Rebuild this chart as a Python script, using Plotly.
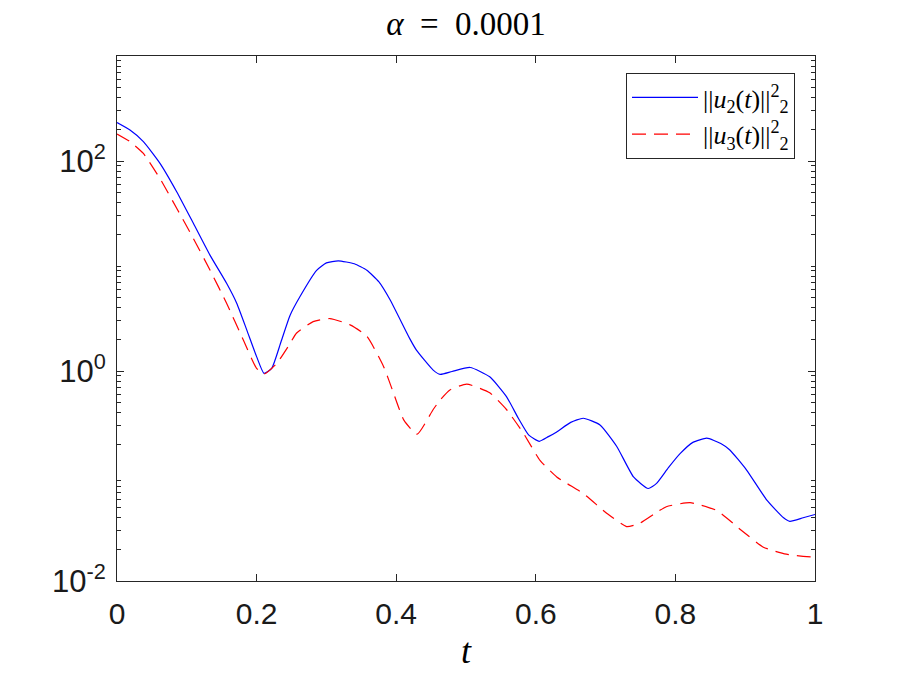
import plotly.graph_objects as go

t_u2 = [0, 0.0186, 0.0378, 0.0616, 0.0855, 0.1094, 0.1332, 0.157, 0.1715, 0.186, 0.200,
        0.2106, 0.2216, 0.235, 0.248, 0.262, 0.286, 0.300, 0.317, 0.340, 0.358, 0.375, 0.391,
        0.420, 0.429, 0.453, 0.463, 0.480, 0.506, 0.534, 0.558, 0.575, 0.590, 0.605, 0.618,
        0.630, 0.650, 0.668, 0.692, 0.716, 0.740, 0.761, 0.773, 0.790, 0.807, 0.825, 0.845,
        0.865, 0.878, 0.902, 0.931, 0.955, 0.964, 0.983, 1.0]
u2 = [232, 197, 153, 95, 51, 25.5, 12.7, 6.84, 4.42, 2.45, 1.37,
      0.95, 1.06, 1.9, 3.4, 5.1, 9.1, 10.7, 11.2, 10.5, 9.1, 7.1, 4.8,
      2.0, 1.58, 1.02, 0.93, 0.99, 1.08, 0.88, 0.57, 0.355, 0.245, 0.214, 0.237,
      0.263, 0.324, 0.355, 0.306, 0.191, 0.098, 0.076, 0.085, 0.12, 0.164, 0.209, 0.229,
      0.204, 0.177, 0.114, 0.059, 0.040, 0.037, 0.040, 0.043]

t_u3 = [0, 0.0186, 0.0378, 0.0616, 0.0855, 0.1094, 0.1332, 0.157, 0.181, 0.200, 0.2106,
        0.2288, 0.248, 0.257, 0.281, 0.305, 0.334, 0.358, 0.382, 0.396, 0.411, 0.430, 0.453,
        0.463, 0.477, 0.501, 0.534, 0.558, 0.582, 0.606, 0.630, 0.668, 0.702, 0.730, 0.749,
        0.770, 0.787, 0.821, 0.859, 0.893, 0.926, 0.959, 1.0]
u3 = [181, 153, 118, 68, 35.5, 18.3, 9.16, 4.42, 1.97, 1.06, 0.935,
      1.18, 1.83, 2.29, 2.95, 3.16, 2.75, 2.14, 1.10, 0.62, 0.34, 0.25, 0.43,
      0.53, 0.66, 0.75, 0.62, 0.43, 0.257, 0.141, 0.098, 0.068, 0.044, 0.033, 0.0355,
      0.0437, 0.051, 0.0557, 0.047, 0.031, 0.021, 0.018, 0.0168]

x_ticks = [0, 0.2, 0.4, 0.6, 0.8, 1]
x_ticktext = ["0", "0.2", "0.4", "0.6", "0.8", "1"]
y_ticks = [0.01, 1, 100]
y_ticktext = ["10<sup>-2</sup>", "10<sup>0</sup>", "10<sup>2</sup>"]
y_minor = [m * 10 ** e for e in (-2, -1, 0, 1, 2) for m in range(2, 10)] + [10, 1000]

legend_u2 = "||<i>u</i><sub>2</sub>(<i>t</i>)||<sup>2</sup><sub>2</sub>"
legend_u3 = "||<i>u</i><sub>3</sub>(<i>t</i>)||<sup>2</sup><sub>2</sub>"
title_text = "<i>α</i>\u2002=\u20020.0001"

axcol = "#262626"
serif = "'Liberation Serif', 'DejaVu Serif', serif"
sans = "'Liberation Sans', Arial, sans-serif"

fig = go.Figure()
fig.add_trace(go.Scatter(x=t_u2, y=u2, mode="lines", name=legend_u2,
                         line=dict(color="#0000FF", width=1.2, shape="spline", smoothing=0.5)))
fig.add_trace(go.Scatter(x=t_u3, y=u3, mode="lines", name=legend_u3,
                         line=dict(color="#FF0000", width=1.2, dash="14px,8px",
                                   shape="spline", smoothing=0.5)))

fig.update_layout(
    width=903, height=678,
    margin=dict(l=117, r=88, t=56, b=97),
    paper_bgcolor="white", plot_bgcolor="white",
    title=dict(text=title_text, x=(117 + 815) / 2 / 903, xanchor="center",
               y=1 - 23 / 678, yanchor="middle",
               font=dict(family=serif, size=33, color="black")),
    xaxis=dict(range=[0, 1], tickvals=x_ticks, ticktext=x_ticktext,
               ticks="inside", ticklen=7, tickcolor=axcol, tickwidth=1,
               showline=True, linecolor=axcol, linewidth=1, mirror="ticks",
               showgrid=False, zeroline=False,
               tickfont=dict(family=sans, size=30, color="#1a1a1a"),
               ticklabelstandoff=6,
               title=dict(text="<i>t</i>", standoff=8,
                          font=dict(family=serif, size=36, color="black"))),
    yaxis=dict(type="log", range=[-2, 3], tickvals=y_ticks, ticktext=y_ticktext,
               ticks="inside", ticklen=7, tickcolor=axcol, tickwidth=1,
               showline=True, linecolor=axcol, linewidth=1, mirror="ticks",
               showgrid=False, zeroline=False,
               tickfont=dict(family=sans, size=31, color="#1a1a1a"),
               ticklabelstandoff=4,
               minor=dict(tickvals=y_minor, ticks="inside", ticklen=4,
                          tickcolor=axcol, tickwidth=1, showgrid=False)),
    legend=dict(x=(795 - 117) / 698, xanchor="right", y=(581 - 73) / 525, yanchor="top",
                bgcolor="white", bordercolor=axcol, borderwidth=1,
                font=dict(family=serif, size=26, color="black"),
                itemwidth=66, tracegroupgap=0),
    showlegend=True,
)

fig.write_html("out.html")
